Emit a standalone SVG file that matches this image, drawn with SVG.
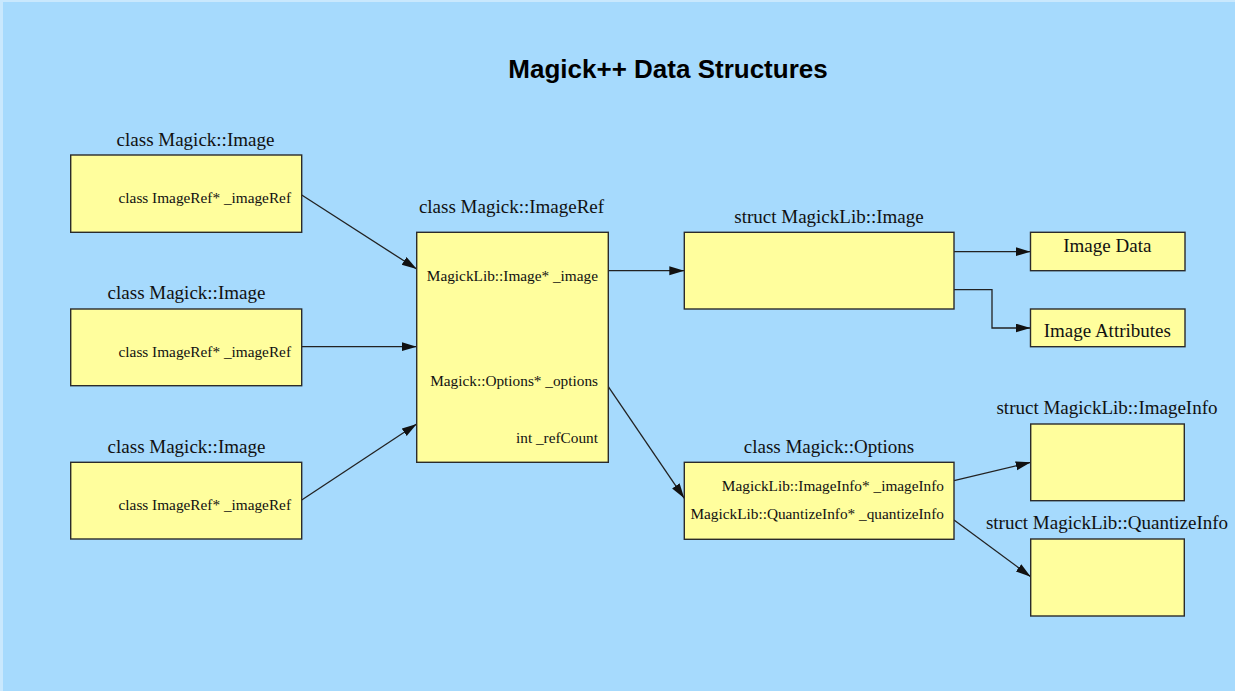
<svg xmlns="http://www.w3.org/2000/svg" width="1235" height="691" viewBox="0 0 1235 691">
<style>
.bg{fill:#a6dafd}
.box{fill:#fffe9d;stroke:#2b2b2b;stroke-width:1.4}
.lbl{font-family:"Liberation Serif","Times New Roman",serif;font-size:19px;fill:#111;text-anchor:middle}
.mem{font-family:"Liberation Serif","Times New Roman",serif;font-size:15.3px;fill:#111;text-anchor:end}
.title{font-family:"Liberation Sans",Arial,sans-serif;font-size:26px;font-weight:bold;fill:#000;text-anchor:middle}
.edge{fill:none;stroke:#222;stroke-width:1.3;marker-end:url(#arr)}
</style>
<defs>
<marker id="arr" markerUnits="userSpaceOnUse" markerWidth="16" markerHeight="10" refX="15" refY="4.5" orient="auto">
<path d="M0,0 L15,4.5 L0,9 z" fill="#111"/>
</marker>
</defs>
<rect class="bg" x="0" y="0" width="1235" height="691"/>
<rect x="0" y="0" width="3" height="691" fill="#c9e8fd"/>
<rect x="0" y="0" width="1235" height="2" fill="#c9e8fd"/>
<text class="title" x="668" y="78">Magick++ Data Structures</text>

<g id="connectors">
<path class="edge" d="M301.7,195 L416.7,269"/>
<path class="edge" d="M301.7,346.7 L416.7,346.7"/>
<path class="edge" d="M301.7,500 L416.7,424"/>
<path class="edge" d="M608.3,270.7 L684.3,270.7"/>
<path class="edge" d="M608.3,386.7 L684.3,498.3"/>
<path class="edge" d="M954,251.7 L1030.5,251.7"/>
<path class="edge" d="M954,289.7 L992,289.7 L992,328 L1030.5,328"/>
<path class="edge" d="M954,480.7 L1030.7,462.3"/>
<path class="edge" d="M954,520 L1030.7,576.7"/>
</g>

<g id="image1">
<text class="lbl" x="195.5" y="146">class Magick::Image</text>
<rect class="box" x="70.7" y="155" width="231" height="77.3"/>
<text class="mem" x="291" y="203">class ImageRef* _imageRef</text>
</g>
<g id="image2">
<text class="lbl" x="186.5" y="299">class Magick::Image</text>
<rect class="box" x="70.7" y="309" width="231" height="76.7"/>
<text class="mem" x="291" y="356.7">class ImageRef* _imageRef</text>
</g>
<g id="image3">
<text class="lbl" x="186.5" y="452.7">class Magick::Image</text>
<rect class="box" x="70.7" y="462.3" width="231" height="76.7"/>
<text class="mem" x="291" y="510">class ImageRef* _imageRef</text>
</g>
<g id="imageref">
<text class="lbl" x="511.5" y="212.7">class Magick::ImageRef</text>
<rect class="box" x="416.7" y="232.3" width="191.6" height="230"/>
<text class="mem" x="598" y="280.7">MagickLib::Image* _image</text>
<text class="mem" x="598" y="385.7">Magick::Options* _options</text>
<text class="mem" x="598" y="443">int _refCount</text>
</g>
<g id="mlimage">
<text class="lbl" x="829" y="222.7">struct MagickLib::Image</text>
<rect class="box" x="684.3" y="232.3" width="269.7" height="76.7"/>
</g>
<g id="imagedata">
<rect class="box" x="1030.5" y="232.3" width="154.5" height="38.4"/>
<text class="lbl" x="1107.3" y="251.7">Image Data</text>
</g>
<g id="imageattrs">
<rect class="box" x="1030.5" y="309" width="154.5" height="37.7"/>
<text class="lbl" x="1107.3" y="337.3">Image Attributes</text>
</g>
<g id="options">
<text class="lbl" x="829" y="453">class Magick::Options</text>
<rect class="box" x="684.3" y="462.3" width="269.7" height="77"/>
<text class="mem" x="944" y="490.7">MagickLib::ImageInfo* _imageInfo</text>
<text class="mem" x="944" y="519.3">MagickLib::QuantizeInfo* _quantizeInfo</text>
</g>
<g id="imageinfo">
<text class="lbl" x="1107" y="414">struct MagickLib::ImageInfo</text>
<rect class="box" x="1030.7" y="424" width="153.6" height="76.7"/>
</g>
<g id="quantizeinfo">
<text class="lbl" x="1107" y="529.3">struct MagickLib::QuantizeInfo</text>
<rect class="box" x="1030.7" y="539" width="153.6" height="77"/>
</g>
</svg>
